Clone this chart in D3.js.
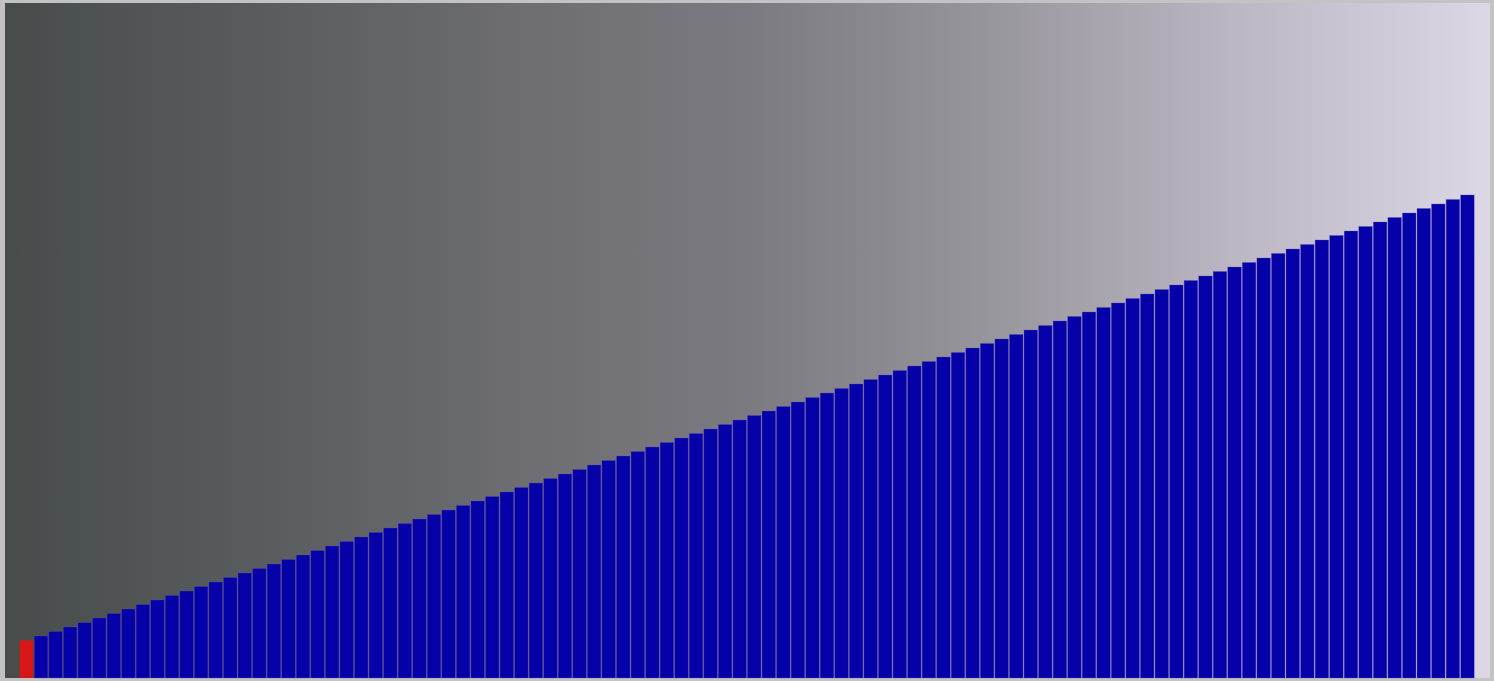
<!DOCTYPE html>
<html>
<head>
<meta charset="utf-8">
<script src="https://cdn.jsdelivr.net/npm/d3@7"></script>
<style>
  html, body { margin: 0; padding: 0; background: #c3c3c3; overflow: hidden; }
  svg { display: block; }
</style>
</head>
<body>
<svg width="1494" height="681"></svg>
<script>
// bar values (sorted array, first item highlighted)
const values = [
  1, 2, 3, 4, 5, 6, 7, 8, 9, 10,
  11, 12, 13, 14, 15, 16, 17, 18, 19, 20,
  21, 22, 23, 24, 25, 26, 27, 28, 29, 30,
  31, 32, 33, 34, 35, 36, 37, 38, 39, 40,
  41, 42, 43, 44, 45, 46, 47, 48, 49, 50,
  51, 52, 53, 54, 55, 56, 57, 58, 59, 60,
  61, 62, 63, 64, 65, 66, 67, 68, 69, 70,
  71, 72, 73, 74, 75, 76, 77, 78, 79, 80,
  81, 82, 83, 84, 85, 86, 87, 88, 89, 90,
  91, 92, 93, 94, 95, 96, 97, 98, 99, 100,
];
const highlighted = [0];

const svg = d3.select("svg");

// plot area inside the grey frame
const plotLeft = 5, plotTop = 3, plotRight = 1490, plotBottom = 678;

//background gradient
const defs = svg.append("defs");
const grad = defs.append("linearGradient")
  .attr("id", "bg")
  .attr("x1", "0%").attr("x2", "100%")
  .attr("y1", "0%").attr("y2", "0%");
const stops = [
  [0, "#474c4b"],
  [0.17, "#585c5f"],
  [0.33, "#6b6b70"],
  [0.5, "#7b7a80"],
  [0.67, "#99979e"],
  [0.83, "#bcb7c3"],
  [1, "#dcd7e5"],
];
grad.selectAll("stop")
  .data(stops)
  .enter()
  .append("stop")
  .attr("offset", (d) => d[0])
  .attr("stop-color", (d) => d[1]);

svg.append("rect")
  .attr("x", plotLeft)
  .attr("y", plotTop)
  .attr("width", plotRight - plotLeft)
  .attr("height", plotBottom - plotTop)
  .attr("fill", "url(#bg)");

//scales
const xScale = d3.scaleBand()
  .domain(values.map((d, i) => i))
  .range([19.7, 1474.2])
  .paddingInner(0.07)
  .paddingOuter(0);

const yScale = d3.scaleLinear()
  .domain([0, 100])
  .range([645, 195]);

//bars
svg.append("g")
  .selectAll("rect")
  .data(values)
  .enter()
  .append("rect")
  .attr("x", (d, i) => xScale(i))
  .attr("width", xScale.bandwidth())
  .attr("y", (d) => yScale(d))
  .attr("height", (d) => plotBottom - yScale(d))
  .attr("fill", (d, i) => (highlighted.includes(i) ? "#d91616" : "#0600a9"))
  .attr("stroke", (d, i) => (highlighted.includes(i) ? "none" : "#5a50c0"))
  .attr("stroke-opacity", 0.5)
  .attr("stroke-width", 0.6);
</script>
</body>
</html>
